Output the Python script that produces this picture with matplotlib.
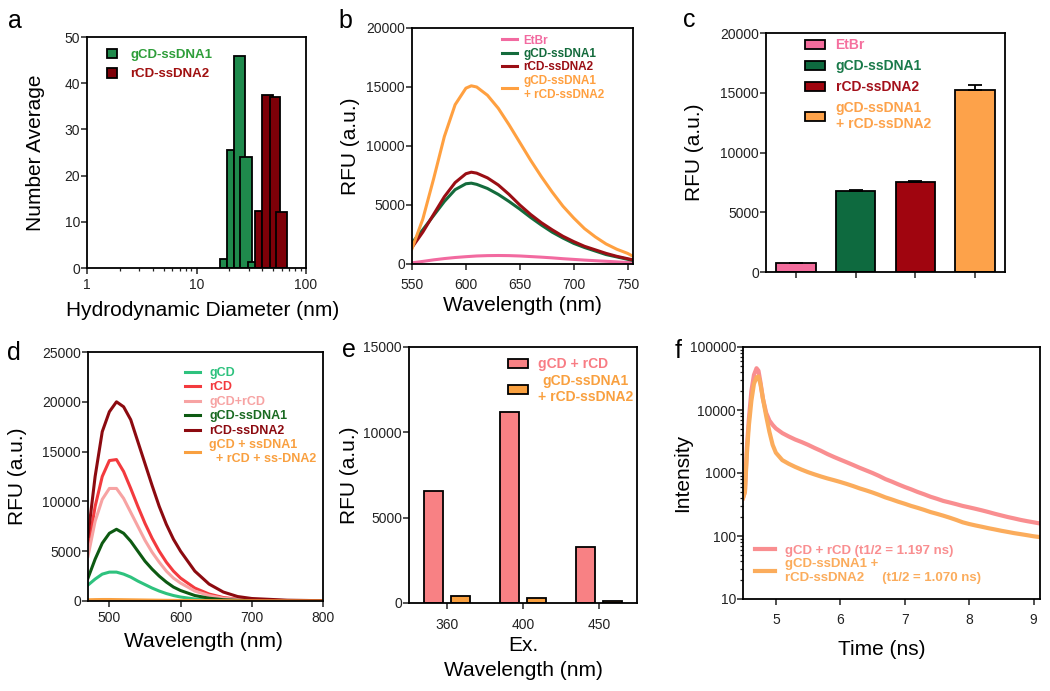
import matplotlib
matplotlib.use("Agg")
import matplotlib.pyplot as plt
from matplotlib.ticker import FixedLocator, FuncFormatter, LogLocator, NullFormatter

plt.rcParams["font.family"] = ["Liberation Sans", "DejaVu Sans"]
plt.rcParams["axes.linewidth"] = 1.3
plt.rcParams["xtick.color"] = "#222222"
plt.rcParams["ytick.color"] = "#222222"

W, H = 1050, 691

# ---- panel a: DLS size distribution ----
a_green_left = [16.3, 19.0, 22.1, 25.1, 29.7]
a_green_right = [19.0, 22.1, 27.7, 31.9, 36.7]
a_green_h = [1.9, 25.5, 45.9, 24.1, 1.2]
a_red_left = [34.2, 39.4, 46.9, 53.2]
a_red_right = [39.9, 50.3, 57.9, 66.6]
a_red_h = [12.3, 37.4, 37.1, 12.1]

# ---- panel b: emission spectra ----
b_wl = [550, 560, 570, 580, 590, 600, 605, 610, 620, 630, 640, 650, 660, 670,
        680, 690, 700, 710, 720, 730, 740, 750, 755]
b_etbr = [100, 220, 350, 460, 550, 620, 650, 680, 710, 720, 710, 680, 630, 580,
          520, 450, 390, 330, 280, 230, 180, 130, 110]
b_green = [1800, 2900, 4100, 5300, 6300, 6800, 6850, 6750, 6400, 5900, 5300, 4650,
           3950, 3300, 2700, 2200, 1750, 1400, 1100, 800, 600, 400, 300]
b_red = [1400, 2700, 4200, 5700, 6900, 7650, 7780, 7700, 7300, 6700, 5900, 5000,
         4200, 3500, 2900, 2350, 1900, 1500, 1200, 900, 650, 450, 350]
b_orange = [1300, 3800, 7200, 10800, 13500, 14900, 15100, 15000, 14300, 13200,
            11800, 10300, 8800, 7400, 6100, 4900, 3900, 3000, 2300, 1700, 1250, 900, 650]

# ---- panel c: peak RFU ----
c_labels = ["EtBr", "gCD-ssDNA1", "rCD-ssDNA2", "gCD-ssDNA1\n+ rCD-ssDNA2"]
c_values = [730, 6780, 7560, 15230]
c_err = [30, 80, 80, 420]

# ---- panel d: spectra of dots ----
d_wl = [470, 480, 490, 500, 510, 520, 530, 540, 550, 560, 570, 580, 590, 600,
        620, 640, 660, 680, 700, 750, 800]
d_gcd = [1600, 2200, 2700, 2900, 2900, 2700, 2400, 2000, 1650, 1300, 1000, 750,
         550, 400, 200, 100, 50, 25, 15, 8, 5]
d_rcd = [5200, 9500, 12500, 14100, 14200, 13000, 11300, 9500, 7800, 6300, 5000,
         3900, 3000, 2300, 1300, 700, 350, 180, 100, 40, 20]
d_mix = [4500, 8000, 10200, 11300, 11300, 10300, 8900, 7500, 6100, 4900, 3900,
         3000, 2300, 1800, 1000, 550, 280, 150, 80, 30, 15]
d_gss = [2300, 4200, 5800, 6800, 7200, 6800, 6000, 5000, 4000, 3200, 2500, 1900,
         1400, 1050, 550, 280, 130, 70, 40, 15, 10]
d_rss = [6500, 12500, 17000, 19000, 20000, 19500, 18200, 16000, 13800, 11600,
         9500, 7700, 6200, 5000, 3000, 1700, 900, 450, 250, 80, 30]
d_all = [120, 140, 150, 150, 140, 130, 120, 110, 100, 90, 80, 70, 65, 60, 45,
         35, 28, 22, 20, 10, 5]

# ---- panel e: excitation dependence ----
e_cats = ["360", "400", "450"]
e_mix = [6580, 11210, 3260]
e_ss = [410, 275, 135]

# ---- panel f: fluorescence decay ----
f_t = [4.49, 4.52, 4.55, 4.58, 4.62, 4.66, 4.70, 4.73, 4.76, 4.80, 4.85, 4.90,
       4.95, 5.0, 5.1, 5.2, 5.3, 5.4, 5.5, 5.6, 5.7, 5.8, 5.9, 6.0, 6.1, 6.2,
       6.3, 6.4, 6.5, 6.6, 6.7, 6.8, 6.9, 7.0, 7.1, 7.2, 7.3, 7.4, 7.5, 7.6,
       7.7, 7.8, 7.9, 8.0, 8.1, 8.2, 8.3, 8.4, 8.5, 8.6, 8.7, 8.8, 8.9, 9.0, 9.1]
f_mix = [400, 500, 2500, 7000, 20000, 36000, 46000, 42000, 28000, 15000, 9000,
         6800, 5800, 5100, 4300, 3800, 3400, 3100, 2800, 2500, 2250, 2000, 1800,
         1630, 1480, 1340, 1210, 1100, 1000, 900, 800, 730, 660, 600, 550, 500,
         460, 420, 390, 360, 340, 320, 300, 285, 270, 255, 240, 225, 212, 200,
         190, 180, 172, 165, 158]
f_ss = [400, 500, 2000, 5500, 14000, 26000, 33000, 34000, 26000, 15000, 8000,
        4500, 2800, 2100, 1600, 1400, 1250, 1130, 1030, 950, 880, 820, 770, 720,
        670, 620, 570, 530, 490, 450, 410, 380, 350, 325, 300, 280, 260, 240,
        225, 210, 195, 180, 165, 155, 147, 140, 133, 127, 121, 116, 111, 107,
        103, 99, 96]


def px_axes(fig, x0, y0, x1, y1):
    return fig.add_axes([x0 / W, 1 - y1 / H, (x1 - x0) / W, (y1 - y0) / H])


def style(ax, xpad=3, ypad=1):
    ax.tick_params(axis="both", which="major", direction="out", length=4,
                   width=1.1, labelsize=10)
    ax.tick_params(axis="x", pad=xpad)
    ax.tick_params(axis="y", pad=ypad)
    ax.tick_params(axis="both", which="minor", direction="out", length=2.5, width=0.9)


def labels(ax, xl, yl, xy, yx):
    ax.set_xlabel(xl, fontsize=15, va="center", linespacing=1.4)
    ax.set_ylabel(yl, fontsize=15, va="center")
    ax.xaxis.set_label_coords(*xy)
    ax.yaxis.set_label_coords(yx, 0.5)


fig = plt.figure(figsize=(W / 100, H / 100), dpi=100)

# a
ax = px_axes(fig, 87, 37, 306, 268)
ga = "#1f8a4c"
ra = "#7e0008"
for l, r, h in zip(a_green_left, a_green_right, a_green_h):
    ax.bar(l, h, width=r - l, align="edge", color=ga, edgecolor="black", linewidth=1.3)
for l, r, h in zip(a_red_left, a_red_right, a_red_h):
    ax.bar(l, h, width=r - l, align="edge", color=ra, edgecolor="black", linewidth=1.3)
ax.set_xscale("log")
ax.set_xlim(1, 100)
ax.set_ylim(0, 50)
ax.set_yticks([0, 10, 20, 30, 40, 50])
ax.xaxis.set_major_formatter(FuncFormatter(lambda v, p: f"{v:g}"))
ax.xaxis.set_minor_formatter(NullFormatter())
style(ax)
labels(ax, "Hydrodynamic Diameter (nm)", "Number Average", (0.53, -0.182), -0.237)
ha1 = plt.Rectangle((0, 0), 1, 1, facecolor=ga, edgecolor="black", linewidth=1.3)
ha2 = plt.Rectangle((0, 0), 1, 1, facecolor=ra, edgecolor="black", linewidth=1.3)
ax.legend([ha1, ha2], ["gCD-ssDNA1", "rCD-ssDNA2"], loc="upper left",
          bbox_to_anchor=(0.091, 0.95), borderaxespad=0, borderpad=0, frameon=False,
          prop={"size": 9.5, "weight": "bold"}, labelcolor=["#2e9e3a", "#a01010"],
          handlelength=0.75, handleheight=0.75, handletextpad=1.0, labelspacing=0.52)

# b
ax = px_axes(fig, 412, 28, 633, 264)
b_cols = ["#f26aa0", "#146b3c", "#9a0e14", "#ffa040"]
b_names = ["EtBr", "gCD-ssDNA1", "rCD-ssDNA2", "gCD-ssDNA1\n+ rCD-ssDNA2"]
for ys, c, n in zip([b_etbr, b_green, b_red, b_orange], b_cols, b_names):
    ax.plot(b_wl, ys, color=c, lw=2.2, label=n)
ax.set_xlim(550, 755)
ax.set_ylim(0, 20000)
ax.set_xticks([550, 600, 650, 700, 750])
ax.set_yticks([0, 5000, 10000, 15000, 20000])
style(ax, xpad=6)
labels(ax, "Wavelength (nm)", "RFU (a.u.)", (0.5, -0.174), -0.28)
ax.legend(loc="upper left", bbox_to_anchor=(0.406, 0.972), borderaxespad=0,
          borderpad=0, frameon=False, prop={"size": 8.5, "weight": "bold"},
          labelcolor=b_cols, handlelength=1.3, handletextpad=0.55, labelspacing=0.12)

# c
ax = px_axes(fig, 766, 33, 1005, 272)
c_cols = ["#f36c9c", "#0e6a3f", "#a0050f", "#fda24a"]
pos = list(range(len(c_values)))
bars = ax.bar(pos, c_values, width=0.66, color=c_cols, edgecolor="black", linewidth=1.3,
              yerr=[[0] * len(c_err), c_err], capsize=5,
              error_kw=dict(elinewidth=1.3, capthick=1.3, ecolor="black"))
ax.set_xlim(-0.5, 3.5)
ax.set_ylim(0, 20000)
ax.set_xticks(pos)
ax.set_xticklabels([])
ax.set_yticks([0, 5000, 10000, 15000, 20000])
style(ax)
labels(ax, "", "RFU (a.u.)", (0.5, -0.1), -0.30)
ax.legend(bars.patches, c_labels, loc="upper left", bbox_to_anchor=(0.163, 0.978),
          borderaxespad=0, borderpad=0, frameon=False, prop={"size": 10, "weight": "bold"},
          labelcolor=["#f56f9e", "#1a7a4a", "#a3101a", "#fda24a"], handlelength=1.45,
          handleheight=0.65, handletextpad=0.75, labelspacing=0.5)

# d
ax = px_axes(fig, 88, 352, 323, 601)
d_cols = ["#2ec27e", "#f33a3e", "#f7a3a3", "#0d5a12", "#8c0a10", "#f9a040"]
d_names = ["gCD", "rCD", "gCD+rCD", "gCD-ssDNA1", "rCD-ssDNA2",
           "gCD + ssDNA1\n  + rCD + ss-DNA2"]
for ys, c, n in zip([d_gcd, d_rcd, d_mix, d_gss, d_rss, d_all], d_cols, d_names):
    ax.plot(d_wl, ys, color=c, lw=2.2, label=n)
ax.set_xlim(470, 800)
ax.set_ylim(0, 25000)
ax.set_xticks([500, 600, 700, 800])
ax.set_yticks([0, 5000, 10000, 15000, 20000, 25000])
style(ax)
labels(ax, "Wavelength (nm)", "RFU (a.u.)", (0.49, -0.161), -0.302)
ax.legend(loc="upper left", bbox_to_anchor=(0.413, 0.94), borderaxespad=0,
          borderpad=0, frameon=False, prop={"size": 9, "weight": "bold"},
          labelcolor=["#2ec27e", "#f33a3e", "#f7a3a3", "#1a6a22", "#8c0a10", "#f9a040"],
          handlelength=1.2, handletextpad=0.72, labelspacing=0.2)

# e
ax = px_axes(fig, 409, 347, 637, 603)
xs = list(range(len(e_cats)))
b1 = ax.bar([x - 0.18 for x in xs], e_mix, width=0.257, color="#f88184",
            edgecolor="black", linewidth=1.3)
b2 = ax.bar([x + 0.18 for x in xs], e_ss, width=0.257, color="#f9a03f",
            edgecolor="black", linewidth=1.3)
ax.set_xlim(-0.5, 2.5)
ax.set_ylim(0, 15000)
ax.set_xticks(xs)
ax.set_xticklabels(e_cats)
ax.set_yticks([0, 5000, 10000, 15000])
style(ax, xpad=7)
labels(ax, "Ex.\nWavelength (nm)", "RFU (a.u.)", (0.5, -0.213), -0.263)
leg = ax.legend([b1.patches[0], b2.patches[0]], ["gCD + rCD", "gCD-ssDNA1\n+ rCD-ssDNA2"],
                loc="upper left", bbox_to_anchor=(0.434, 0.96), borderaxespad=0,
                borderpad=0, frameon=False, prop={"size": 10, "weight": "bold"},
                labelcolor=["#f87c84", "#f9a03f"], handlelength=1.45, handleheight=0.65,
                handletextpad=0.72, labelspacing=0.2)
leg.get_texts()[1].set_multialignment("center")

# f
ax = px_axes(fig, 743, 347, 1040, 599)
ax.plot(f_t, f_mix, color="#f98e90", lw=3, label="gCD + rCD (t1/2 = 1.197 ns)")
ax.plot(f_t, f_ss, color="#fbac5c", lw=3,
        label="gCD-ssDNA1 +\nrCD-ssDNA2     (t1/2 = 1.070 ns)")
ax.set_yscale("log")
ax.set_xlim(4.49, 9.1)
ax.set_ylim(10, 100000)
ax.set_xticks([5, 6, 7, 8, 9])
ax.yaxis.set_major_locator(FixedLocator([10, 100, 1000, 10000, 100000]))
ax.yaxis.set_major_formatter(FuncFormatter(lambda v, p: f"{v:.0f}"))
ax.yaxis.set_minor_locator(LogLocator(base=10, subs=range(2, 10)))
ax.yaxis.set_minor_formatter(NullFormatter())
style(ax, xpad=6)
labels(ax, "Time (ns)", "Intensity", (0.466, -0.202), -0.202)
ax.legend(loc="lower left", bbox_to_anchor=(0.04, 0.06), borderaxespad=0,
          borderpad=0, frameon=False, prop={"size": 9.5, "weight": "bold"},
          labelcolor=["#f98e90", "#fbac5c"], handlelength=1.5, handletextpad=0.76,
          labelspacing=0.1)

for letter, x, y in [("a", 8, 28), ("b", 338, 28), ("c", 683, 27),
                     ("d", 7, 360), ("e", 342, 357), ("f", 675, 358)]:
    fig.text(x / W, 1 - y / H, letter, fontsize=18, va="baseline", ha="left")

fig.savefig("out.png", dpi=100)
